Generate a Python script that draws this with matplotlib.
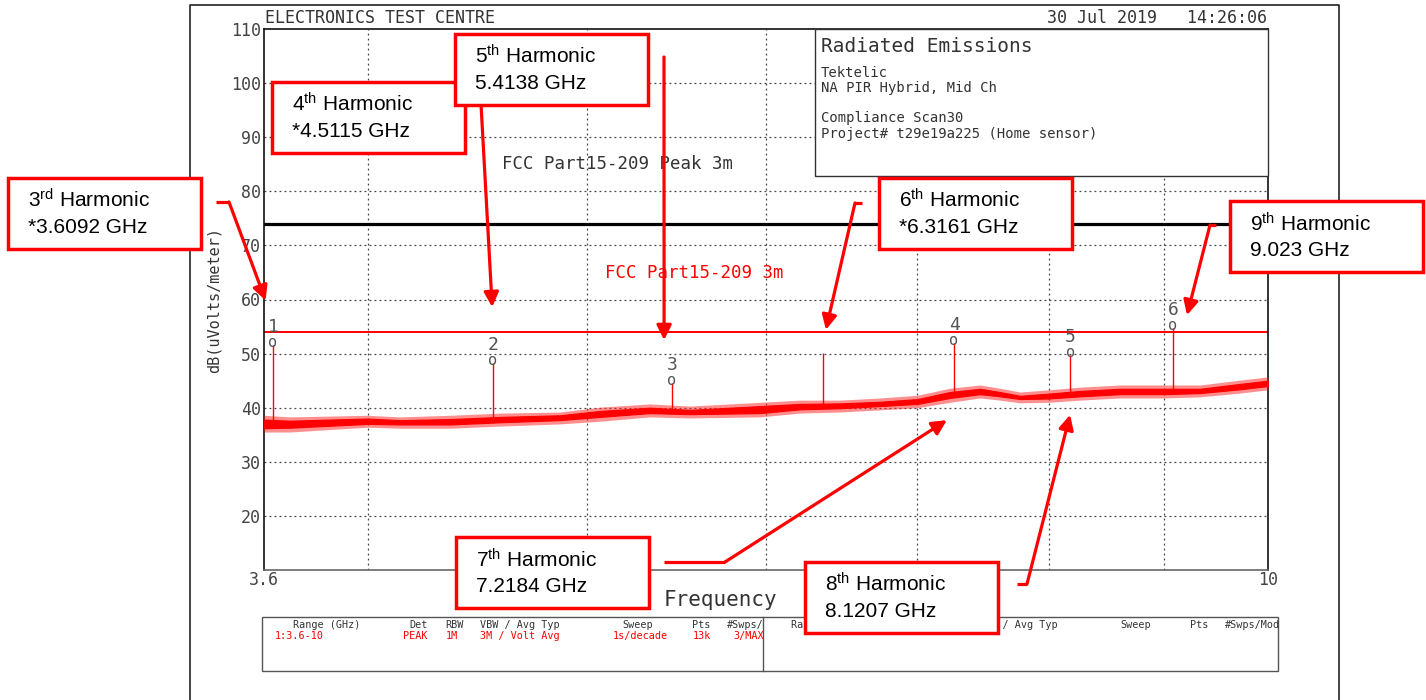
import matplotlib
matplotlib.use("Agg")
import matplotlib.pyplot as plt
from matplotlib.patches import Rectangle, FancyArrowPatch
from matplotlib.ticker import NullLocator

plt.rcParams['mathtext.fontset'] = 'custom'
plt.rcParams['mathtext.rm'] = 'Liberation Sans'
plt.rcParams['mathtext.it'] = 'Liberation Sans:italic'
plt.rcParams['mathtext.bf'] = 'Liberation Sans:bold'

MONO = 'DejaVu Sans Mono'
SANS = 'Liberation Sans'
INK = '#333333'

# ---- data ----
# noise floor: outer envelope and solid core (GHz, dBuV/m)
noise_f = [3.60, 3.696, 4.00, 4.134, 4.350, 4.578, 4.865, 5.067, 5.332, 5.554, 5.964, 6.212, 6.470,
           6.739, 7.00, 7.235, 7.460, 7.613, 7.770, 8.00, 8.259, 8.602, 9.00, 9.332, 9.719, 10.0]
noise_hi = [38.6, 38.3, 38.6, 38.3, 38.6, 39.0, 39.2, 40.1, 40.7, 40.3, 41.0, 41.4, 41.4,
            41.8, 42.3, 43.6, 44.2, 43.6, 42.9, 43.3, 43.8, 44.2, 44.2, 44.2, 45.1, 45.7]
noise_lo = [35.5, 35.5, 36.4, 36.2, 36.2, 36.6, 37.0, 37.5, 38.3, 38.1, 38.3, 39.0, 39.2,
            39.6, 40.0, 41.0, 41.8, 41.4, 40.9, 41.0, 41.4, 41.8, 41.8, 42.0, 42.7, 43.3]
core_hi = [37.8, 37.6, 38.0, 37.7, 37.9, 38.3, 38.6, 39.4, 40.0, 39.6, 40.3, 40.7, 40.8,
           41.1, 41.6, 42.9, 43.5, 42.9, 42.2, 42.6, 43.1, 43.5, 43.5, 43.5, 44.4, 45.0]
core_lo = [36.2, 36.3, 37.0, 36.9, 36.9, 37.3, 37.7, 38.3, 39.0, 38.8, 39.0, 39.7, 39.9,
           40.3, 40.7, 41.8, 42.5, 42.1, 41.6, 41.7, 42.1, 42.5, 42.5, 42.7, 43.4, 44.0]

# harmonic spikes
spike_f = [3.633, 4.544, 5.453, 6.358, 7.265, 8.176, 9.079, 10.0]
spike_base = [37.0, 37.5, 39.5, 40.3, 42.5, 42.0, 43.0, 44.5]
spike_peak = [51.6, 48.3, 44.6, 50.1, 52.0, 49.7, 54.7, 53.8]
marker_idx = [0, 1, 2, 4, 5, 6]
marker_num = ['1', '2', '3', '4', '5', '6']

limit_peak = 74   # FCC Part15-209 Peak 3m
limit_avg = 54    # FCC Part15-209 3m

grid_db = [20, 30, 40, 50, 60, 70, 80, 90, 100]
grid_f = [4, 5, 6, 7, 8, 9]
ytick_db = [20, 30, 40, 50, 60, 70, 80, 90, 100, 110]
xtick_f = [3.6, 10]
xtick_lab = ['3.6', '10']

harm_title = ['3$^{\\mathrm{rd}}$ Harmonic', '4$^{\\mathrm{th}}$ Harmonic', '5$^{\\mathrm{th}}$ Harmonic',
              '6$^{\\mathrm{th}}$ Harmonic', '9$^{\\mathrm{th}}$ Harmonic', '7$^{\\mathrm{th}}$ Harmonic',
              '8$^{\\mathrm{th}}$ Harmonic']
harm_freq = ['*3.6092 GHz', '*4.5115 GHz', '5.4138 GHz', '*6.3161 GHz', '9.023 GHz',
             '7.2184 GHz', '8.1207 GHz']
# where each arrow points (GHz, dB)
tip_f = [3.606, 4.541, 5.409, 6.377, 9.209, 7.213, 8.176]
tip_db = [59.8, 58.6, 52.5, 54.4, 57.1, 37.7, 38.7]

# ---- layout (figure pixels) ----
W, H = 1426, 700
box_xy = [(8, 178), (272, 82), (455, 34), (879, 178), (1230, 201), (456, 537), (805, 562)]
box_w, box_h = 193, 71
arrow_path = [[(216, 202), (229, 202)],
              [(481, 104)],
              [(664, 57)],
              [(862, 203), (855, 203)],
              [(1216, 225), (1210, 225)],
              [(664, 562), (725, 562)],
              [(1017, 584), (1027, 584)]]

fig = plt.figure(figsize=(W / 100, H / 100), dpi=100)


def frac(x0, y0, x1, y1):
    return [x0 / W, 1 - y1 / H, (x1 - x0) / W, (y1 - y0) / H]


ax = fig.add_axes(frac(264, 29, 1268, 570))
ax.set_xscale('log')
ax.set_xlim(3.6, 10)
ax.set_ylim(10, 110)

dots = (0, (1.5, 2.5))
ax.hlines(grid_db, 3.6, 10, colors='#444444', linestyles=dots, lw=0.9, zorder=1)
ax.vlines(grid_f, 10, 110, colors='#444444', linestyles=dots, lw=0.9, zorder=1)
ax.axhline(limit_peak, color='black', lw=2.3, zorder=2)
ax.axhline(limit_avg, color='red', lw=1.4, zorder=2)

ax.fill_between(noise_f, noise_lo, noise_hi, color='#ff2020', alpha=0.5, lw=0, zorder=3)
ax.fill_between(noise_f, core_lo, core_hi, color='red', lw=0.8, zorder=3)
ax.vlines(spike_f, spike_base, spike_peak, colors='red', lw=1.0, zorder=3)
for i, n in zip(marker_idx, marker_num):
    ax.annotate('o', (spike_f[i], spike_peak[i]), xytext=(0, 2), textcoords='offset points',
                ha='center', va='center', fontsize=11, family=MONO, color='#555555', zorder=4)
    ax.annotate(n, (spike_f[i], spike_peak[i]), xytext=(0, 13), textcoords='offset points',
                ha='center', va='center', fontsize=13, family=MONO, color='#555555', zorder=4)

ax.set_yticks(ytick_db)
ax.set_yticklabels([str(v) for v in ytick_db])
ax.set_xticks(xtick_f)
ax.set_xticklabels(xtick_lab)
ax.xaxis.set_minor_locator(NullLocator())
ax.tick_params(length=0, labelsize=12, labelcolor='#444444')
ax.tick_params(axis='y', pad=2)
ax.tick_params(axis='x', pad=1)
for lab in ax.get_xticklabels() + ax.get_yticklabels():
    lab.set_family(MONO)
for s in ax.spines.values():
    s.set_color('#111111')
    s.set_linewidth(1.2)
ax.spines['bottom'].set_color('#666666')

# overlay in pixel coordinates for the page furniture
ov = fig.add_axes([0, 0, 1, 1], zorder=5)
ov.set_xlim(0, W)
ov.set_ylim(H, 0)
ov.axis('off')
ov.patch.set_visible(False)

# page border
ov.plot([190, 190, 1339, 1339], [700, 5, 5, 700], color='#222222', lw=1.2)

ov.text(265, 18, 'ELECTRONICS TEST CENTRE', family=MONO, fontsize=12, color=INK, va='center')
ov.text(1267, 18, '30 Jul 2019   14:26:06', family=MONO, fontsize=12, color=INK, va='center', ha='right')

# info box
ov.add_patch(Rectangle((815, 29), 453, 147, fc='white', ec='#333333', lw=1.0, zorder=2))
ov.text(821, 46, 'Radiated Emissions', family=MONO, fontsize=14, color=INK, va='center', zorder=3)
info_lines = [(73, 'Tektelic'), (88, 'NA PIR Hybrid, Mid Ch'),
              (118, 'Compliance Scan30'), (134, 'Project# t29e19a225 (Home sensor)')]
for y, t in info_lines:
    ov.text(821, y, t, family=MONO, fontsize=10, color=INK, va='center', zorder=3)

ov.text(502, 164, 'FCC Part15-209 Peak 3m', family=MONO, fontsize=12.5, color=INK, va='center')
ov.text(605, 273, 'FCC Part15-209 3m', family=MONO, fontsize=12.5, color='red', va='center')
ov.text(214, 300, 'dB(uVolts/meter)', family=MONO, fontsize=11, color=INK, rotation=90,
        ha='center', va='center')
ov.text(720, 600, 'Frequency', family=MONO, fontsize=15, color=INK, ha='center', va='center')

# settings table
ov.add_patch(Rectangle((262, 617), 1016, 54, fc='none', ec='#555555', lw=1.0))
ov.plot([763, 763], [617, 671], color='#555555', lw=1.0)
hdr = [(293, 'Range (GHz)'), (409, 'Det'), (445, 'RBW'), (480, 'VBW / Avg Typ'),
       (622, 'Sweep'), (692, 'Pts'), (727, '#Swps/')]
row = [(275, '1:3.6-10'), (403, 'PEAK'), (446, '1M'), (480, '3M / Volt Avg'),
       (613, '1s/decade'), (693, '13k'), (733, '3/MAX')]
for x, t in hdr:
    ov.text(x, 625, t, family=MONO, fontsize=7.3, color=INK, va='center')
for x, t in hdr[:-1] + [(727, '#Swps/Mod')]:
    ov.text(x + 498, 625, t, family=MONO, fontsize=7.3, color=INK, va='center')
for x, t in row:
    ov.text(x, 636, t, family=MONO, fontsize=7.3, color='red', va='center')

# harmonic call-outs
inv = ov.transData.inverted()
for k in range(len(harm_title)):
    tip = inv.transform(ax.transData.transform((tip_f[k], tip_db[k])))
    pts = arrow_path[k]
    if len(pts) > 1:
        ov.plot([p[0] for p in pts], [p[1] for p in pts], color='red', lw=2.3,
                solid_capstyle='butt', zorder=6)
    start = pts[-1]
    ov.add_patch(FancyArrowPatch(start, tuple(tip), arrowstyle='-|>', mutation_scale=22,
                                 color='red', lw=2.3, shrinkA=0, shrinkB=0, zorder=6))
    bx, by = box_xy[k]
    ov.add_patch(Rectangle((bx, by), box_w, box_h, fc='white', ec='red', lw=2.5, zorder=7))
    ov.text(bx + 20, by + 30, harm_title[k], family=SANS, fontsize=15, color='black', zorder=8)
    ov.text(bx + 20, by + 55, harm_freq[k], family=SANS, fontsize=15, color='black', zorder=8)

fig.savefig('out.png', dpi=100)
